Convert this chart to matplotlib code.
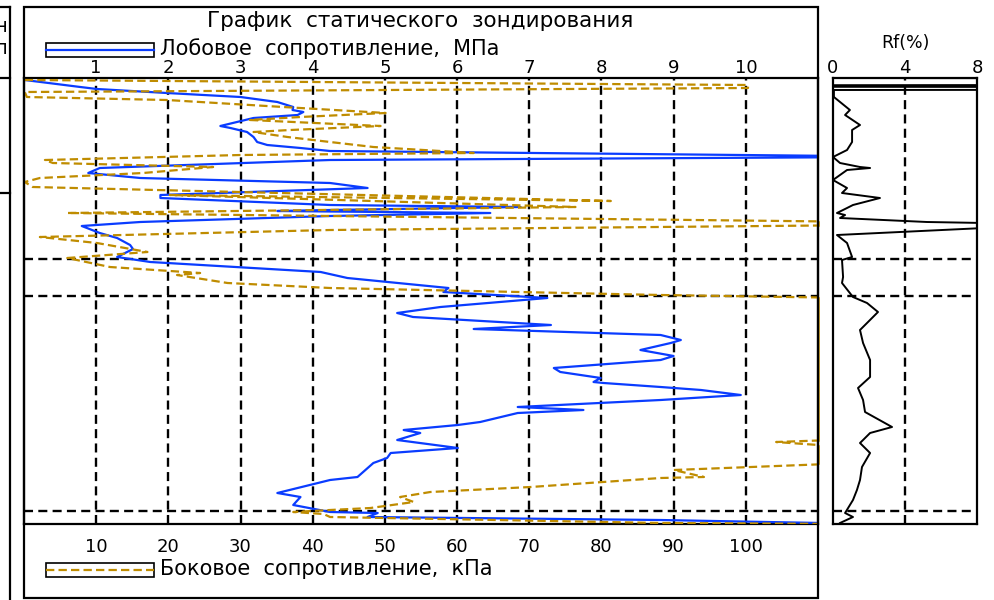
import matplotlib

matplotlib.use("Agg")
import matplotlib.pyplot as plt  # noqa: E402
import numpy as np  # noqa: E402
from matplotlib.lines import Line2D  # noqa: E402
from matplotlib.patches import Rectangle  # noqa: E402

# ---- data (depth in m) ----
QC_DEPTH = [0.05, 0.225, 0.275, 0.375, 0.475, 0.6, 0.725, 0.8, 0.85, 0.925,
            1.0, 1.2, 1.25, 1.35, 1.475, 1.6, 1.675, 1.75, 1.825, 1.97,
            2.05, 2.25, 2.375, 2.5, 2.625, 2.75, 2.925, 3.0, 3.175, 3.225,
            3.3, 3.325, 3.375, 3.45, 3.6, 3.7, 3.875, 4.0, 4.175, 4.275,
            4.475, 4.6, 4.85, 5.0, 5.25, 5.35, 5.5, 5.725, 5.875, 5.975,
            6.175, 6.275, 6.425, 6.55, 6.625, 6.8, 6.95, 7.05, 7.25, 7.35,
            7.5, 7.6, 7.625, 7.725, 7.8, 7.925, 8.05, 8.225, 8.3, 8.375,
            8.6, 8.675, 8.8, 8.875, 9.05, 9.25, 9.375, 9.5, 9.625, 9.975,
            10.05, 10.375, 10.475, 10.675, 10.85, 10.875, 10.975, 11.05, 11.125]
QC_MPA = [0.01, 0.78, 1.01, 1.98, 3.0, 3.51, 3.73, 3.72, 3.87, 3.79,
          3.18, 2.72, 2.86, 3.09, 3.18, 3.23, 3.37, 3.83, 4.24, 12.5,
          4.24, 1.05, 0.89, 1.61, 4.24, 4.76, 1.89, 1.89, 4.24, 6.88,
          4.24, 3.51, 6.46, 4.24, 1.61, 0.80, 1.05, 1.29, 1.47, 1.51,
          1.29, 1.75, 4.11, 4.48, 5.88, 5.81, 7.25, 5.77, 5.17, 5.39,
          7.30, 6.23, 8.82, 9.10, 8.96, 8.54, 9.0, 8.82, 7.34, 7.43,
          7.99, 7.89, 8.03, 8.82, 9.38, 9.93, 8.82, 6.84, 7.75, 6.84,
          6.32, 6.01, 5.26, 5.49, 5.17, 6.01, 5.08, 5.03, 4.84, 4.62,
          4.24, 3.51, 3.83, 3.73, 4.24, 4.90, 4.76, 8.82, 11.04]

FS_DEPTH = [0.05, 0.175, 0.25, 0.35, 0.475, 0.55, 0.725, 0.875, 0.975, 1.05,
            1.2, 1.3, 1.35, 1.475, 1.6, 1.725, 1.875, 1.925, 2.05, 2.125,
            2.225, 2.375, 2.5, 2.6, 2.725, 3.075, 2.925, 3.225, 3.375, 3.45,
            3.6, 3.675, 3.8, 3.975, 4.125, 4.35, 4.5, 4.725, 4.875, 4.925,
            5.125, 5.25, 5.425, 5.5, 6.5, 7.5, 8.5, 9.05, 9.1, 9.2,
            9.625, 9.8, 9.975, 10.0, 10.225, 10.35, 10.475, 10.6, 10.75, 10.8,
            10.85, 10.9, 10.975, 11.125, 11.15]
FS_KPA = [0.1, 100.3, 100.3, 0.1, 0.4, 19.8, 35.9, 50.1, 38.3, 31.3,
          49.4, 36.9, 31.8, 36.5, 42.4, 48.4, 62.3, 30.0, 2.9, 4.0,
          26.2, 16.5, 2.2, 0.1, 1.2, 81.3, 20.2, 76.4, 6.0, 42.4,
          118.0, 118.0, 42.4, 2.2, 10.1, 17.1, 6.0, 11.9, 24.4, 21.2,
          28.2, 42.4, 88.2, 115.0, 125.0, 130.0, 122.0, 112.0, 104.2, 112.0,
          115.0, 90.0, 94.2, 88.2, 70.2, 56.3, 52.1, 54.0, 48.0, 42.4,
          37.3, 41.5, 42.4, 88.2, 115.0]

RF_DEPTH = [0.0, 0.02, 0.16, 0.18, 0.22, 0.24, 0.28, 0.30, 0.475, 0.8,
            0.925, 1.175, 1.3, 1.6, 1.8, 1.975, 2.125, 2.225, 2.25, 2.3,
            2.55, 2.75, 2.875, 3.0, 3.175, 3.25, 3.375, 3.425, 3.5, 3.6,
            3.625, 3.75, 3.925, 4.125, 4.475, 4.55, 4.975, 5.125, 5.475, 5.625,
            5.85, 6.125, 6.3, 6.625, 7.05, 7.475, 7.75, 8.05, 8.35, 8.725,
            8.875, 9.05, 9.125, 9.375, 9.725, 10.05, 10.3, 10.55, 10.875, 10.975,
            11.125]
RF_PCT = [0.0, 60.0, 60.0, 0.05, 0.05, 60.0, 60.0, 0.05, 0.05, 0.94,
          0.67, 1.5, 1.06, 1.06, 0.78, 0.0, 0.39, 1.5, 2.06, 0.78,
          0.0, 0.78, 0.5, 2.61, 1.11, 0.78, 0.22, 0.67, 0.39, 5.22,
          8.4, 8.4, 0.22, 0.78, 1.06, 0.5, 0.56, 0.5, 1.11, 1.89,
          2.5, 1.89, 1.5, 1.67, 2.06, 2.06, 1.39, 1.67, 1.78, 3.28,
          2.06, 1.67, 1.5, 2.06, 1.61, 1.5, 1.33, 1.11, 0.67, 1.11,
          0.39]

LAYERS = [4.525, 5.45, 10.825]
QC_TICKS = [1, 2, 3, 4, 5, 6, 7, 8, 9, 10]
FS_TICKS = [10, 20, 30, 40, 50, 60, 70, 80, 90, 100]
RF_TICKS = [0, 4, 8]

TITLE = "График  статического  зондирования"
QC_LABEL = "Лобовое  сопротивление,  МПа"
FS_LABEL = "Боковое  сопротивление,  кПа"

BLUE = "#0A3CFF"
GOLD = "#BF8C00"
GRID_LS = (0, (6.5, 3.8))
GOLD_LS = (0, (6.0, 3.0))

plt.rcParams["lines.scale_dashes"] = False
plt.rcParams["font.family"] = "DejaVu Sans"

W, H = 995, 600


def fx(px):
    return px / W


def fy(py):
    return 1 - py / H


fig = plt.figure(figsize=(W / 100, H / 100), dpi=100)

# main panel: qc on top axis, fs on bottom axis
ax = fig.add_axes([fx(24), fy(524), fx(818) - fx(24), fy(78) - fy(524)])
ax2 = ax.twiny()

ax.set_xlim(0, 11)
ax.set_ylim(11.15, 0)
ax.set_xticks(QC_TICKS)
ax.set_yticks([])
ax.xaxis.set_ticks_position("top")
ax.tick_params(axis="x", top=True, bottom=False, labeltop=True, labelbottom=False,
               length=0, pad=1, labelsize=13)
ax.grid(axis="x", color="black", ls=GRID_LS, lw=1.7)
for d in LAYERS:
    ax.axhline(d, color="black", ls=GRID_LS, lw=1.7, zorder=1.5)
for s in ax.spines.values():
    s.set_linewidth(1.6)
ax.plot(QC_MPA, QC_DEPTH, color=BLUE, lw=1.6, zorder=3)

ax2.set_xlim(0, 110)
ax2.xaxis.set_ticks_position("bottom")
ax2.set_xticks(FS_TICKS)
ax2.tick_params(axis="x", top=False, bottom=True, labeltop=False, labelbottom=True,
                length=0, pad=10, labelsize=13)
for s in ax2.spines.values():
    s.set_visible(False)
fs = np.array(FS_KPA)
ax2.plot(fs, FS_DEPTH, color=GOLD, lw=1.6, ls=GOLD_LS, zorder=4)
# part of the fs curve that runs off the scale is drawn along the edge
fs_edge = np.where(fs >= 110, 110, np.nan)
ax2.plot(fs_edge, FS_DEPTH, color=GOLD, lw=1.8, clip_on=False, zorder=5)

# friction ratio panel
axr = fig.add_axes([fx(833), fy(524), fx(977) - fx(833), fy(78) - fy(524)])
axr.set_xlim(0, 8)
axr.set_ylim(11.15, 0)
axr.set_xticks(RF_TICKS)
axr.set_yticks([])
axr.tick_params(axis="x", top=True, bottom=False, labeltop=True, labelbottom=False,
                length=0, pad=1, labelsize=13)
axr.axvline(4, color="black", ls=GRID_LS, lw=1.7, zorder=1.5)
for d in LAYERS:
    axr.axhline(d, color="black", ls=GRID_LS, lw=1.7, zorder=1.5)
for s in axr.spines.values():
    s.set_linewidth(1.6)
axr.plot(RF_PCT, RF_DEPTH, color="black", lw=1.4, zorder=3)
fig.text(fx(905), fy(43), "Rf(%)", ha="center", va="center", fontsize=12.5)

# outer frame and header
fig.add_artist(Rectangle((fx(24), fy(598)), fx(818) - fx(24), fy(7) - fy(598),
                         fill=False, lw=1.6, transform=fig.transFigure))
for seg in [((10, 10), (7, 600)), ((0, 10), (7, 7)), ((0, 10), (78, 78)),
            ((0, 10), (193, 193))]:
    fig.add_artist(Line2D([fx(p) for p in seg[0]], [fy(p) for p in seg[1]],
                          color="black", lw=1.6, transform=fig.transFigure))
fig.text(fx(1), fy(27), "н", ha="center", va="center", fontsize=14)
fig.text(fx(1), fy(49), "п", ha="center", va="center", fontsize=14)

fig.text(fx(420), fy(21), TITLE, ha="center", va="center", fontsize=15.5)

# legend boxes
fig.add_artist(Rectangle((fx(46), fy(57)), fx(154) - fx(46), fy(43) - fy(57),
                         fill=False, lw=1.2, transform=fig.transFigure))
fig.add_artist(Line2D([fx(46), fx(154)], [fy(50), fy(50)], color=BLUE, lw=1.6,
                      transform=fig.transFigure))
fig.text(fx(160), fy(49), QC_LABEL, ha="left", va="center", fontsize=15)

fig.add_artist(Rectangle((fx(46), fy(577)), fx(154) - fx(46), fy(563) - fy(577),
                         fill=False, lw=1.2, transform=fig.transFigure))
fig.add_artist(Line2D([fx(46), fx(154)], [fy(570), fy(570)], color=GOLD, lw=1.6,
                      ls=GOLD_LS, transform=fig.transFigure))
fig.text(fx(160), fy(569), FS_LABEL, ha="left", va="center", fontsize=15)

fig.savefig("out.png", dpi=100)
